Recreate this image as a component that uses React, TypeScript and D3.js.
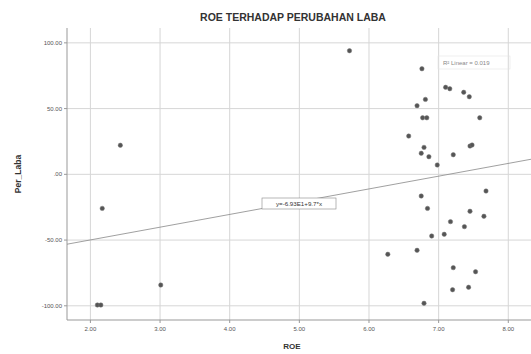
import React from 'react';
import * as d3 from 'd3';

const roe = [
  5.72, 6.76, 7.10, 7.16, 7.36, 7.44, 6.81, 6.69, 6.77, 6.83,
  7.59, 6.57, 6.79, 6.75, 6.86, 7.21, 7.45, 7.48, 6.98, 6.75,
  7.68, 6.84, 7.45, 7.65, 7.17, 7.37, 6.90, 7.08, 6.27, 6.69,
  7.21, 7.53, 7.20, 7.43, 6.79, 2.43, 2.17, 3.01, 2.10, 2.15,
];
const perLaba = [
  94.0, 80.3, 66.2, 65.1, 62.4, 59.0, 57.0, 52.2, 43.0, 43.0,
  43.0, 29.1, 20.5, 16.0, 13.4, 14.9, 21.5, 22.3, 7.1, -16.5,
  -12.7, -25.9, -28.1, -31.9, -36.0, -39.8, -46.9, -45.6, -60.8, -57.8,
  -71.0, -74.1, -87.8, -85.9, -98.1, 22.1, -25.9, -84.2, -99.4, -99.4,
];
const xTicks = [2, 3, 4, 5, 6, 7, 8];
const yTicks = [100, 50, 0, -50, -100];
const fitIntercept = -69.3;
const fitSlope = 9.7;
const fitLabel = 'y=-6.93E1+9.7*x';
const r2Label = 'R\u00b2 Linear = 0.019';

const W = 531;
const H = 354;
const left = 67;
const top = 28;
const bottom = 320;
const right = 531;
const font = '"Liberation Sans", Arial, sans-serif';

const fmt = (v: number) => (v === 0 ? '.00' : v.toFixed(2));

export default function App() {
  const x = d3.scaleLinear().domain([1.664, 8.326]).range([left, right]);
  const y = d3.scaleLinear().domain([-110.8, 111.3]).range([bottom, top]);
  const [x0, x1] = x.domain();
  const fit = d3.line<number>()
    .x(d => x(d))
    .y(d => y(fitIntercept + fitSlope * d));

  return (
    <svg width={W} height={H} style={{ position: 'absolute', left: 0, top: 0, background: '#fff' }}
      fontFamily={font}>
      <text x={293} y={21} textAnchor="middle" fontSize={10.5} fontWeight="bold" fill="#333">
        ROE TERHADAP PERUBAHAN LABA
      </text>
      <g stroke="#d6d6d6" strokeWidth={1}>
        {xTicks.map(t => (
          <line key={'gx' + t} x1={x(t)} x2={x(t)} y1={top} y2={bottom} />
        ))}
        {yTicks.map(t => (
          <line key={'gy' + t} x1={left} x2={right} y1={y(t)} y2={y(t)} />
        ))}
      </g>
      <g stroke="#999" strokeWidth={1}>
        <line x1={left} x2={left} y1={top} y2={bottom} />
        <line x1={left} x2={right} y1={bottom} y2={bottom} />
        {xTicks.map(t => (
          <line key={'tx' + t} x1={x(t)} x2={x(t)} y1={bottom} y2={bottom + 3} />
        ))}
        {yTicks.map(t => (
          <line key={'ty' + t} x1={left - 3} x2={left} y1={y(t)} y2={y(t)} />
        ))}
      </g>
      {yTicks.map(t => (
        <text key={'ly' + t} x={left - 5} y={y(t) + 2} textAnchor="end" fontSize={6} fill="#555">
          {fmt(t)}
        </text>
      ))}
      {xTicks.map(t => (
        <text key={'lx' + t} x={x(t)} y={bottom + 11} textAnchor="middle" fontSize={6} fill="#555">
          {fmt(t)}
        </text>
      ))}
      <text x={292} y={349} textAnchor="middle" fontSize={8} fontWeight="bold" fill="#333">ROE</text>
      <text transform={`translate(21,${(top + bottom) / 2}) rotate(-90)`} textAnchor="middle"
        fontSize={8.5} fontWeight="bold" fill="#333">Per_Laba</text>
      <path d={fit([x0, x1]) || ''} fill="none" stroke="#888" strokeWidth={0.8} />
      {roe.map((v, i) => (
        <circle key={i} cx={x(v)} cy={y(perLaba[i])} r={2.2} fill="#555" stroke="#777" strokeWidth={0.5} />
      ))}
      <rect x={262} y={198} width={74} height={11} fill="#fff" stroke="#888" strokeWidth={0.6} />
      <text x={299} y={206} textAnchor="middle" fontSize={6.2} fill="#333">{fitLabel}</text>
      <rect x={438} y={56} width={72} height={13} fill="none" stroke="#e4e4e4" strokeWidth={0.6} />
      <text x={443} y={65} fontSize={6} fill="#888">{r2Label}</text>
    </svg>
  );
}
